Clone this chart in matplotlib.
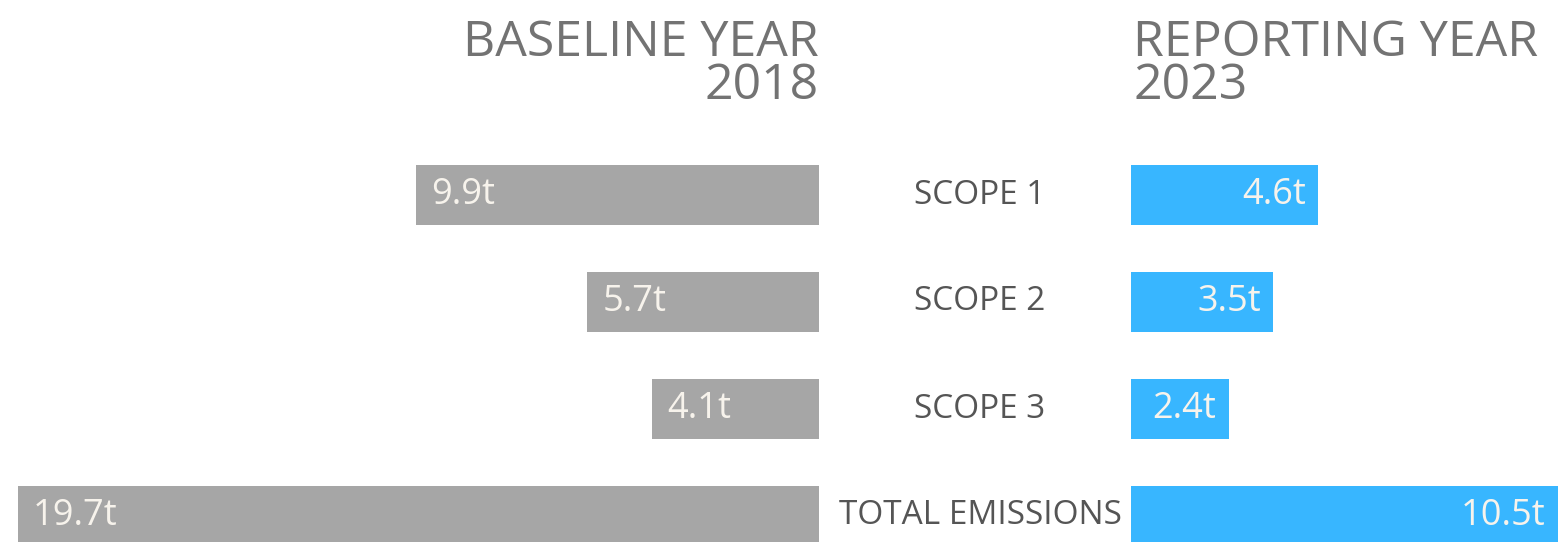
import matplotlib.pyplot as plt
import matplotlib.transforms as mtransforms

# ---------------------------------------------------------
# Data
# ---------------------------------------------------------

categories = ['SCOPE 1', 'SCOPE 2', 'SCOPE 3', 'TOTAL EMISSIONS']
baseline = [9.9, 5.7, 4.1, 19.7]
reporting = [4.6, 3.5, 2.4, 10.5]
baseline_title = 'BASELINE YEAR\n2018'
reporting_title = 'REPORTING YEAR\n2023'

grey = '#a6a6a6'
blue = '#38b6ff'
title_color = '#737373'
label_color = '#555555'
value_color = '#f7f3ec'

plt.rcParams['font.family'] = ['Open Sans', 'DejaVu Sans']

W, H = 1563, 542
px_per_unit = 40.66
row_pitch = 107
first_row = 195

fig = plt.figure(figsize=(W / 100, H / 100), dpi=100)

left_edge = 819
right_start = 1131

ax_l = fig.add_axes([0, 0, left_edge / W, 1])
ax_r = fig.add_axes([right_start / W, 0, (W - right_start) / W, 1])

ylim = (3 + (H - first_row - 3 * row_pitch) / row_pitch, -first_row / row_pitch)
ax_l.set_xlim(left_edge / px_per_unit, 0)
ax_r.set_xlim(0, (W - right_start) / px_per_unit)

rows = list(range(len(categories)))
bar_h = 60 / row_pitch

ax_l.barh(rows, baseline, height=bar_h, color=grey)
ax_r.barh(rows, reporting, height=bar_h, color=blue)

for ax in (ax_l, ax_r):
    ax.set_ylim(*ylim)
    ax.axis('off')

# value labels
for r, v in zip(rows, baseline):
    ax_l.annotate(f'{v}t', (v, r), xytext=(15, 0), textcoords='offset pixels',
                  ha='left', va='center', fontsize=26, color=value_color)

for r, v in zip(rows, reporting):
    ax_r.annotate(f'{v}t', (v, r), xytext=(-12, 0), textcoords='offset pixels',
                  ha='right', va='center', fontsize=26, color=value_color)

# category labels between the two sides
trans = mtransforms.blended_transform_factory(fig.transFigure, ax_l.transData)
for r, c in zip(rows, categories):
    ax_l.text(980 / W, r, c, transform=trans, ha='center', va='center',
              fontsize=24, color=label_color, clip_on=False)

# titles
fig.text(left_edge / W, 1 - 19 / H, baseline_title, ha='right', va='top',
         fontsize=36, color=title_color, linespacing=0.82, multialignment='right')
fig.text((right_start + 2) / W, 1 - 19 / H, reporting_title, ha='left', va='top',
         fontsize=36, color=title_color, linespacing=0.82, multialignment='left')

fig.savefig('out.png', dpi=100)
